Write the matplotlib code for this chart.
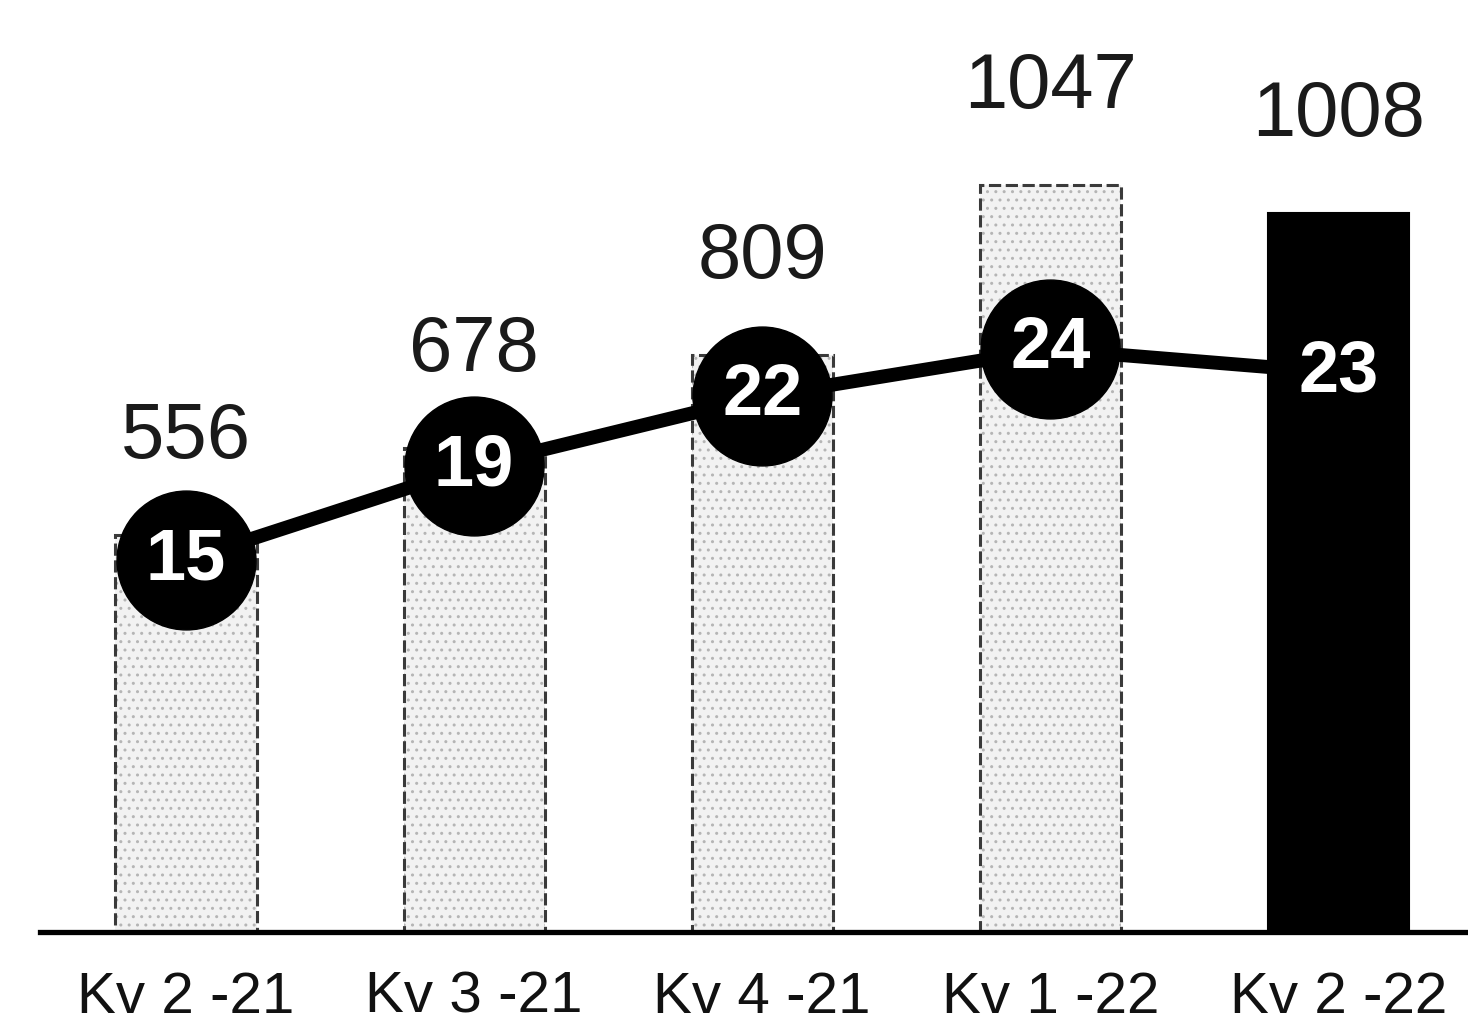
import matplotlib
matplotlib.use('Agg')
import matplotlib.pyplot as plt

plt.rcParams['font.family'] = ['Liberation Sans', 'DejaVu Sans']

quarters = ['Kv 2 -21', 'Kv 3 -21', 'Kv 4 -21', 'Kv 1 -22', 'Kv 2 -22']
bar_values = [556, 678, 809, 1047, 1008]
line_values = [15, 19, 22, 24, 23]

fig = plt.figure(figsize=(14.68, 10.28), dpi=100)
ax = fig.add_axes([0.0272, 0.0934, 0.9728, 0.9066])

x = list(range(len(quarters)))
bar_width = 0.49

# speckled fill for the older quarters, solid black for the latest one
ax.bar(x[:-1], bar_values[:-1], bar_width, color='#f2f2f2', edgecolor='#b5b5b5',
       linewidth=0, hatch='..', zorder=2)
ax.bar(x[:-1], bar_values[:-1], bar_width, fill=False, edgecolor='#3a3a3a',
       linewidth=2.2, linestyle=(0, (4, 1.5)), zorder=3)
ax.bar(x[-1:], bar_values[-1:], bar_width, color='black', edgecolor='black', linewidth=1.5, zorder=2)

for xi, v in zip(x, bar_values):
    ax.annotate(str(v), (xi, v), xytext=(0, 70), textcoords='offset points',
                ha='center', va='center', fontsize=56, color='#1a1a1a')

ax.set_xlim(-0.507, 4.45)
ax.set_ylim(0, 1306)
ax.set_yticks([])
ax.set_xticks(x)
ax.set_xticklabels(quarters, fontsize=42, color='#111111')
ax.tick_params(axis='x', length=0, pad=28)
for s in ['top', 'right', 'left']:
    ax.spines[s].set_visible(False)
ax.spines['bottom'].set_linewidth(3.8)
ax.spines['bottom'].set_color('black')
ax.spines['bottom'].set_zorder(5)

ax2 = ax.twinx()
ax2.plot(x, line_values, color='black', linewidth=10, marker='o', markersize=100,
         markerfacecolor='black', markeredgecolor='black', zorder=4)
for xi, v in zip(x, line_values):
    ax2.text(xi, v, str(v), ha='center', va='center', fontsize=52,
             fontweight='bold', color='white', zorder=6)
ax2.set_ylim(-0.86, 38.9)
ax2.set_yticks([])
for s in ['top', 'right', 'left', 'bottom']:
    ax2.spines[s].set_visible(False)

fig.savefig('out.png', dpi=100)
